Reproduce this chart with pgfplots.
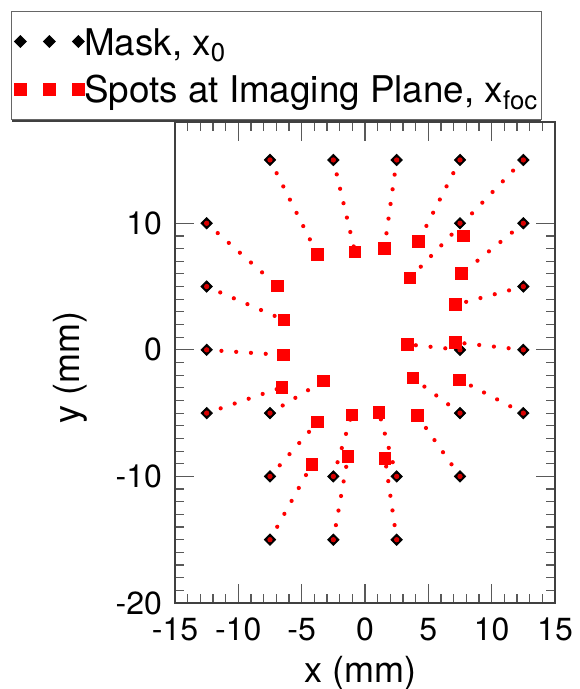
\documentclass[border=0pt]{standalone}
\usepackage{fontspec}
\setmainfont{TeX Gyre Heros}
\usepackage{pgfplots}
\pgfplotsset{compat=1.18}
\usepackage{pgfplotstable}
\usetikzlibrary{shadows}

\pgfplotstableread{
x y
-7.5 15
-2.5 15
2.5 15
7.5 15
12.5 15
-12.5 10
7.5 10
12.5 10
-12.5 5
12.5 5
-12.5 0
7.5 0
12.5 0
-12.5 -5
-7.5 -5
7.5 -5
12.5 -5
-7.5 -10
-2.5 -10
2.5 -10
7.5 -10
-7.5 -15
-2.5 -15
2.5 -15
}\masktable

\pgfplotstableread{
x y
-3.76 7.55
-0.79 7.73
1.53 8.02
4.23 8.58
3.55 5.68
-6.92 5.05
7.76 9.00
7.63 6.02
-6.39 2.36
7.16 3.57
-6.45 -0.41
3.37 0.43
7.16 0.59
-6.55 -2.96
-3.29 -2.46
3.79 -2.23
7.47 -2.36
-3.74 -5.70
-1.05 -5.13
1.10 -4.94
4.13 -5.20
-4.18 -9.03
-1.34 -8.42
1.58 -8.58
}\spottable

\pgfplotstableread{
x y
-7.5 15
-3.76 7.55
nan nan
-2.5 15
-0.79 7.73
nan nan
2.5 15
1.53 8.02
nan nan
7.5 15
4.23 8.58
nan nan
12.5 15
3.55 5.68
nan nan
-12.5 10
-6.92 5.05
nan nan
7.5 10
7.76 9.00
nan nan
12.5 10
7.63 6.02
nan nan
-12.5 5
-6.39 2.36
nan nan
12.5 5
7.16 3.57
nan nan
-12.5 0
-6.45 -0.41
nan nan
7.5 0
3.37 0.43
nan nan
12.5 0
7.16 0.59
nan nan
-12.5 -5
-6.55 -2.96
nan nan
-7.5 -5
-3.29 -2.46
nan nan
7.5 -5
3.79 -2.23
nan nan
12.5 -5
7.47 -2.36
nan nan
-7.5 -10
-3.74 -5.70
nan nan
-2.5 -10
-1.05 -5.13
nan nan
2.5 -10
1.10 -4.94
nan nan
7.5 -10
4.13 -5.20
nan nan
-7.5 -15
-4.18 -9.03
nan nan
-2.5 -15
-1.34 -8.42
nan nan
2.5 -15
1.58 -8.58
}\linetable

\begin{document}
\begin{tikzpicture}
\useasboundingbox (-87.5pt,-43pt) rectangle (202pt,301.5pt);
\begin{axis}[
  scale only axis,
  width=190pt, height=240.5pt,
  xmin=-15, xmax=15, ymin=-20, ymax=18,
  xtick={-15,-10,...,15}, ytick={-20,-10,0,10},
  minor x tick num=4, minor y tick num=9,
  tick align=inside,
  major tick length=9.5pt, minor tick length=4.5pt,
  axis line style={black!75, line width=0.9pt},
  every tick/.append style={black!65, line width=0.6pt},
  /pgf/number format/assume math mode=true,
  tick label style={font=\fontsize{16}{16}\selectfont},
  yticklabel style={xshift=-3pt},
  xticklabel style={yshift=-4pt},
  xlabel={x (mm)}, ylabel={y (mm)},
  every axis x label/.style={at={(axis description cs:0.487,-0.1455)}, anchor=center, font=\fontsize{18}{18}\selectfont},
  every axis y label/.style={at={(axis description cs:-0.275,0.49)}, rotate=90, anchor=center, font=\fontsize{18}{18}\selectfont},
  unbounded coords=jump,
  legend cell align=left,
  legend style={at={(axis description cs:0,1)}, anchor=south west,
    xshift=-82pt, yshift=1pt, draw=black!60, line width=0.6pt, fill=white,
    font=\fontsize{18.4}{18.4}\selectfont, inner xsep=1.5pt, inner ysep=2pt,
    row sep=-2.4pt,
    nodes={inner xsep=0pt, inner ysep=2pt, text height=18pt, text depth=4.2pt},
    drop shadow={shadow xshift=0pt, shadow yshift=-1.3pt, fill=black!75, opacity=1}},
  legend image code/.code={\draw[#1, mark repeat=1, mark phase=1] plot coordinates {(0pt,0pt) (14.5pt,0pt) (29pt,0pt)};},
]
\addplot[only marks, mark=square*, mark size=2pt, mark options={rotate=45, draw=black, fill=black}] table[x=x,y=y] {\masktable};
\addlegendentry{Mask, x\textsubscript{0}}
\addplot[forget plot, red, line width=2.1pt, line cap=round, dash pattern=on 0pt off 7.4pt] table[x=x,y=y] {\linetable};
\addplot[forget plot, only marks, mark=*, mark size=1.1pt, mark options={draw=red!85!black, fill=red!85!black}] table[x=x,y=y] {\masktable};
\addplot[only marks, mark=square*, mark size=2.9pt, mark options={draw=red, fill=red}] table[x=x,y=y] {\spottable};
\addlegendentry{Spots at Imaging Plane, x\textsubscript{foc}\hspace{4.5pt}}
\end{axis}
\end{tikzpicture}
\end{document}
